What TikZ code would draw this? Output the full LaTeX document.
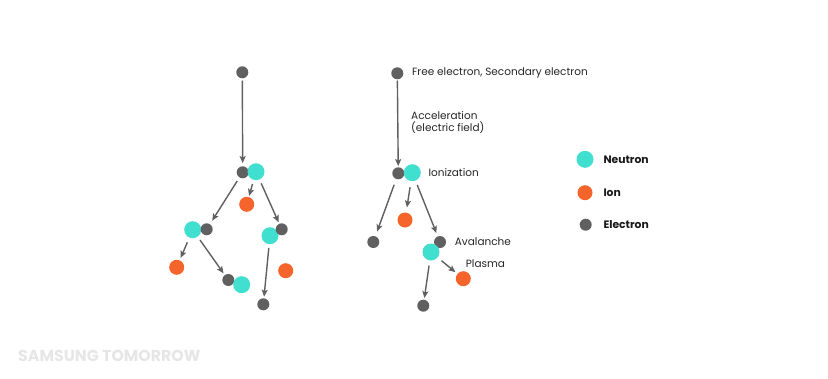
\documentclass[tikz,border=0pt]{standalone}
\usepackage{fontspec}
\setmainfont{Poppins}
\usetikzlibrary{arrows.meta}
\definecolor{elec}{HTML}{606060}
\definecolor{neut}{HTML}{40DFCF}
\definecolor{ionc}{HTML}{F5642A}
\definecolor{wm}{HTML}{E6E6E6}
\tikzset{
  electron/.style={circle,fill=elec,inner sep=0pt,minimum size=12pt},
  neutron/.style={circle,fill=neut,inner sep=0pt,minimum size=17pt},
  ion/.style={circle,fill=ionc,inner sep=0pt,minimum size=15pt},
  arr/.style={draw=elec,line width=1.4pt,-{Stealth[length=7pt,width=6pt,inset=1.5pt]}},
  lbl/.style={anchor=west,inner sep=0pt,font=\fontsize{10.5}{12}\selectfont,text=black!85},
  leg/.style={anchor=west,inner sep=0pt,font=\fontsize{10.8}{13}\selectfont\bfseries,text=black!90}
}
\begin{document}
\begin{tikzpicture}[x=1pt,y=-1pt]
\useasboundingbox[fill=white] (0,0) rectangle (828,378);
% ---- left diagram ----
\node[electron] (a1) at (242.3,72.3) {};
\node[electron] (a2) at (242.7,172.3) {};
\node[neutron]  (a3) at (256,171.7) {};
\node[ion]      (a4) at (246.7,204.3) {};
\node[neutron]  (a5) at (192.7,229.7) {};
\node[electron] (a6) at (206.7,229.3) {};
\node[ion]      (a7) at (176.7,267.3) {};
\node[electron] (a8) at (228.3,280) {};
\node[neutron]  (a9) at (241.7,284.7) {};
\node[neutron]  (a10) at (270,235.7) {};
\node[electron] (a11) at (281.7,229.3) {};
\node[electron] (a12) at (263.3,304.3) {};
\node[ion]      (a13) at (285.7,270.7) {};
\draw[arr,shorten <=2pt,shorten >=3pt] (a1) -- (a2);
\draw[arr,shorten <=4pt,shorten >=4pt] (a2) -- (a6);
\draw[arr,shorten <=4pt,shorten >=1pt] (a3) -- (a4);
\draw[arr,shorten <=4pt,shorten >=1.5pt] (a3) -- (a11);
\draw[arr,shorten <=5pt,shorten >=2.5pt] (a5) -- (a7);
\draw[arr,shorten <=4pt,shorten >=2pt] (a5) -- (a8);
\draw[arr,shorten <=3.5pt,shorten >=1.5pt] (a10) -- (a12);
% ---- right diagram ----
\node[electron] (b1) at (397.3,73.3) {};
\node[electron] (b2) at (398.3,173.3) {};
\node[neutron]  (b3) at (412.3,172.7) {};
\node[electron] (b4) at (373.3,242) {};
\node[ion]      (b5) at (405,220) {};
\node[electron] (b6) at (440,242) {};
\node[neutron]  (b7) at (431,252) {};
\node[ion]      (b8) at (463.3,278.7) {};
\node[electron] (b9) at (423.3,305.7) {};
\draw[arr,shorten <=1pt,shorten >=1pt] (b1) -- (b2);
\draw[arr,shorten <=6pt,shorten >=5pt] (b2) -- (b4);
\draw[arr,shorten <=6pt,shorten >=5pt] (b3) -- (b5);
\draw[arr,shorten <=4.5pt,shorten >=3.5pt] (b3) -- (b6);
\draw[arr,shorten <=5pt,shorten >=2.5pt] (b7) -- (b8);
\draw[arr,shorten <=5pt,shorten >=1.5pt] (b7) -- (b9);
\node[lbl] (t1) at (412,73) {Free electron, Secondary electron};
\node[lbl,align=left] (t2) at (411,122) {Acceleration\\(electric field)};
\node[lbl] (t3) at (428.3,173) {Ionization};
\node[lbl] (t4) at (454.7,242) {Avalanche};
\node[lbl] (t5) at (465.7,264) {Plasma};
% ---- legend ----
\node[neutron]  (l1) at (585,159.3) {};
\node[ion]      (l2) at (585,192.7) {};
\node[electron] (l3) at (585.7,224.7) {};
\node[leg] (lt1) at (603.3,159.3) {Neutron};
\node[leg] (lt2) at (603.3,193) {Ion};
\node[leg] (lt3) at (603.3,225) {Electron};
% ---- watermark ----
\node[anchor=west,inner sep=0pt,font=\fontsize{15.8}{18}\selectfont\bfseries,text=wm] (wm) at (18,355.5) {SAMSUNG TOMORROW};
\end{tikzpicture}
\end{document}
